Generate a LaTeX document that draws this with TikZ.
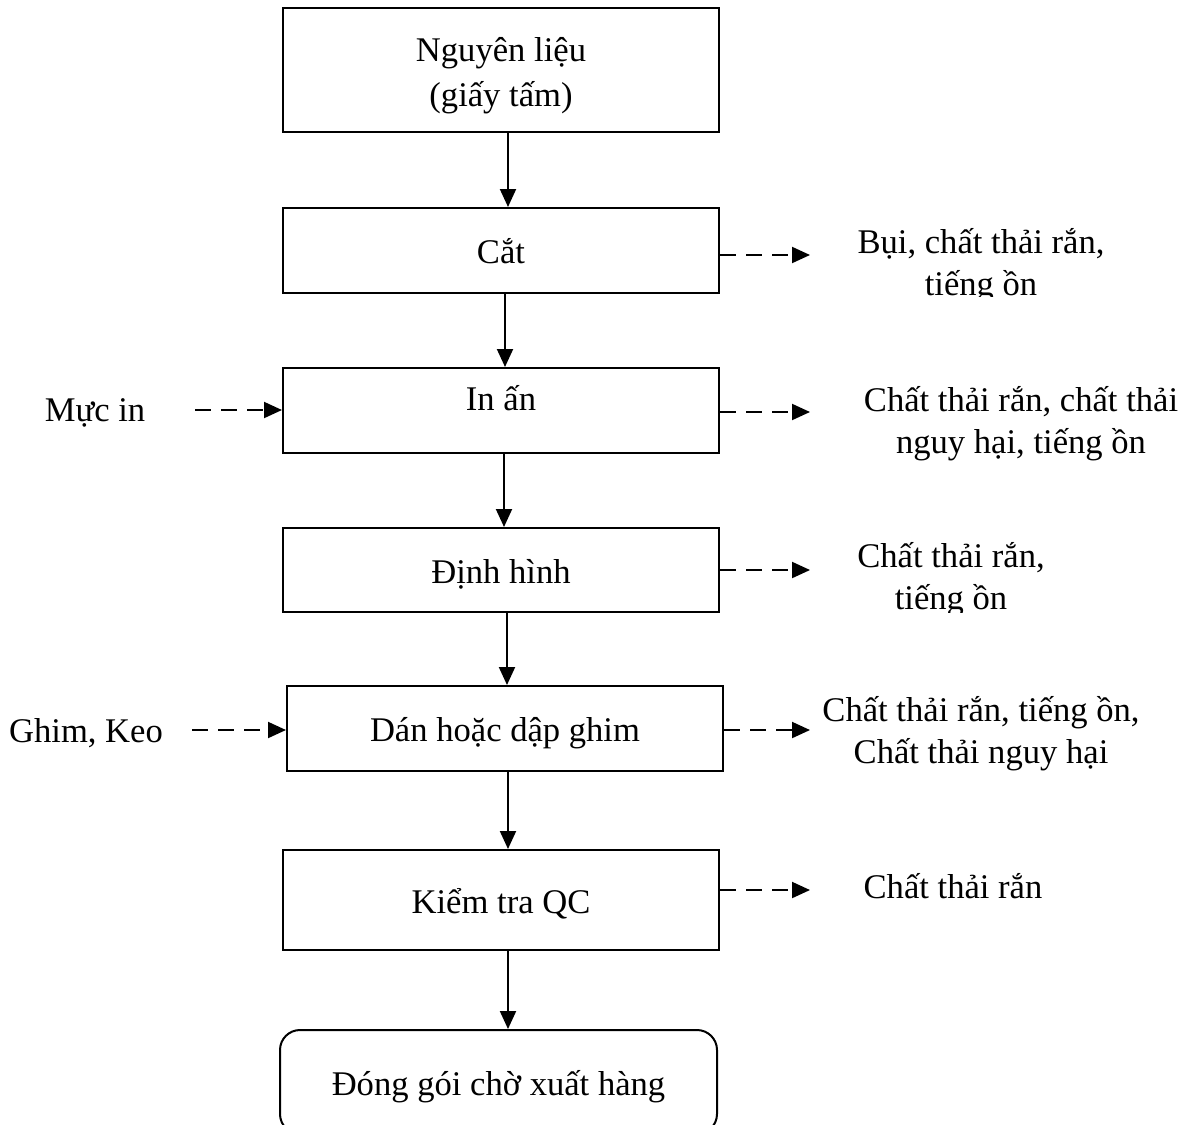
\documentclass[tikz,border=0pt]{standalone}
\usepackage{fontspec}
\setmainfont{Liberation Serif}
\usetikzlibrary{positioning,arrows.meta}
\tikzset{
  >={Triangle[length=9pt,width=8pt]},
  procbox/.style={draw,line width=1pt,minimum width=218pt,inner sep=3pt,
    align=center,text height=16pt,text depth=3pt,
    font=\fontsize{17.3}{21}\selectfont},
  endbox/.style={procbox,rounded corners=10pt},
  flow/.style={->,line width=1pt},
  waste/.style={->,line width=1pt,dash pattern=on 8pt off 5pt},
  outlbl/.style={align=center,inner sep=0pt,font=\fontsize{17.3}{21}\selectfont},
}
\begin{document}
\begin{tikzpicture}[x=0.5pt,y=-0.5pt]
  \useasboundingbox (0,0) rectangle (1187,1124);
  % process chain
  \node[procbox,minimum height=62pt,text height=40pt,text depth=4pt,
    font=\fontsize{17.3}{22.5}\selectfont] (raw) at (501,70) {Nguyên liệu\\(giấy tấm)};
  \node[procbox,minimum height=42.5pt] (cut) at (501,250.5) {Cắt};
  \node[procbox,minimum height=42.5pt,text height=12pt,text depth=12pt] (print) at (501,410.5) {In ấn};
  \node[procbox,minimum height=42pt] (shape) at (501,570) {Định hình};
  \node[procbox,minimum height=42.5pt] (glue) at (505,728.5) {Dán hoặc dập ghim};
  \node[procbox,minimum height=50pt] (qc) at (501,900) {Kiểm tra QC};
  \node[endbox,minimum width=218.5pt,minimum height=52pt] (pack) at (498.5,1082) {Đóng gói chờ xuất hàng};
  \foreach \a/\b/\s in {raw/cut/3.5pt,cut/print/2pt,print/shape/1.5pt,
                        shape/glue/3pt,glue/qc/1.5pt,qc/pack/3.5pt}
    \draw[flow] ([xshift=\s]\a.south) -- ([xshift=\s]\a.south |- \b.north);

  % inputs
  \node[outlbl] (ink) at (95,413) {Mực in};
  \node[outlbl] (pins) at (86,733) {Ghim, Keo};
  \coordinate (inkin) at (195,410);
  \coordinate (pinsin) at (192,730);
  \draw[waste] (inkin) -- (print.west |- inkin);
  \draw[waste] (pinsin) -- (glue.west |- pinsin);

  % wastes
  \coordinate (cutw) at (810,255);
  \coordinate (printw) at (810,412);
  \coordinate (shapew) at (810,570);
  \coordinate (gluew) at (810,730);
  \coordinate (qcw) at (810,890);
  \foreach \b in {cut,print,shape,glue,qc}
    \draw[waste] (\b.east |- \b w) -- (\b w);
  \begin{scope}
    \clip (820,200) rectangle (1187,296);
    \node[outlbl] (cutout) at (981,266) {Bụi, chất thải rắn,\\tiếng ồn};
  \end{scope}
  \node[outlbl] (printout) at (1021,424) {Chất thải rắn, chất thải\\nguy hại, tiếng ồn};
  \begin{scope}
    \clip (820,520) rectangle (1187,612);
    \node[outlbl] (shapeout) at (951,580) {Chất thải rắn,\\tiếng ồn};
  \end{scope}
  \node[outlbl] (glueout) at (981,734) {Chất thải rắn, tiếng ồn,\\Chất thải nguy hại};
  \node[outlbl] (qcout) at (953,886) {Chất thải rắn};
\end{tikzpicture}
\end{document}
